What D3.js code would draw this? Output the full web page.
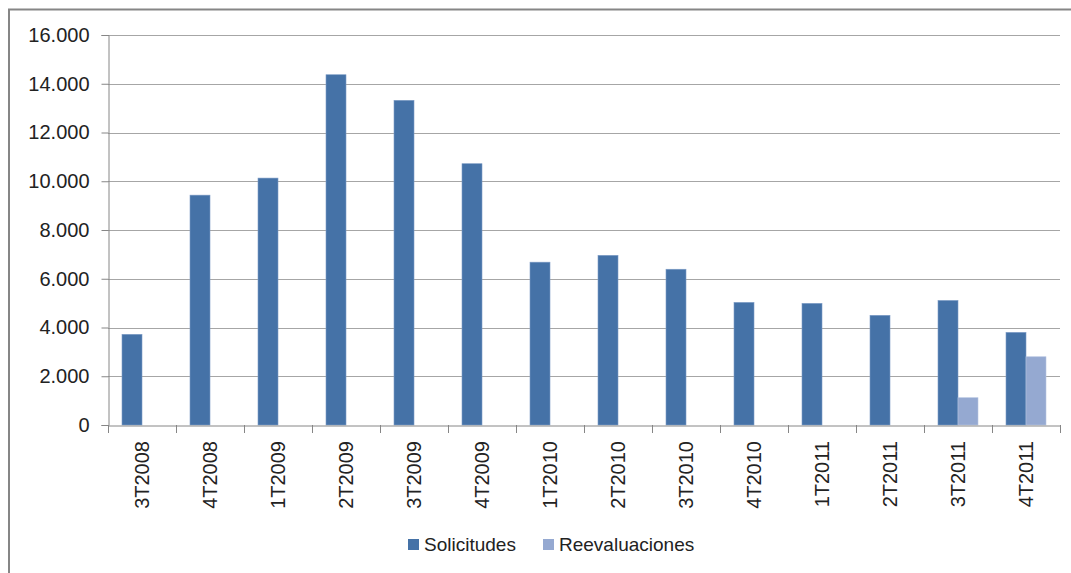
<!DOCTYPE html>
<html>
<head>
<meta charset="utf-8">
<script src="https://cdn.jsdelivr.net/npm/d3@7"></script>
<style>
  html, body { margin: 0; padding: 0; background: #fff; }
  svg { display: block; font-family: "Liberation Sans", Arial, sans-serif; }
</style>
</head>
<body>
<svg id="chart" width="1071" height="573"></svg>
<script>
const categories = ["3T2008","4T2008","1T2009","2T2009","3T2009","4T2009","1T2010","2T2010","3T2010","4T2010","1T2011","2T2011","3T2011","4T2011"];
const solicitudes = [3720, 9430, 10130, 14370, 13320, 10720, 6680, 6960, 6390, 5030, 4990, 4500, 5110, 3800];
const reevaluaciones = [0, 0, 0, 0, 0, 0, 0, 0, 0, 0, 0, 0, 1120, 2800];
const seriesNames = ["Solicitudes", "Reevaluaciones"];
const seriesColors = ["#4572A7", "#95A9D1"];
const yTicks = [0, 2000, 4000, 6000, 8000, 10000, 12000, 14000, 16000];

(function () {
const svg = d3.select("#chart");
const W = 1071, H = 573;
const mLeft = 108, mRight = 1060, mTop = 35, mBottom = 425;

// outer frame (cropped at right/bottom)
svg.append("path")
  .attr("d", `M9,${H + 5} L9,9.5 L${W + 5},9.5`)
  .attr("fill", "none").attr("stroke", "#868686").attr("stroke-width", 2);

const x = d3.scaleBand().domain(categories).range([mLeft, mRight]).paddingInner(0).paddingOuter(0);
const y = d3.scaleLinear().domain([0, 16000]).range([mBottom, mTop]);

// gridlines
svg.append("g").selectAll("line").data(yTicks.filter(d => d > 0)).join("line")
  .attr("x1", mLeft).attr("x2", mRight)
  .attr("y1", d => Math.round(y(d)) + 0.5).attr("y2", d => Math.round(y(d)) + 0.5)
  .attr("stroke", "#a6a6a6").attr("stroke-width", 1.2);

// y axis
const yAxis = d3.axisLeft(y).tickValues(yTicks).tickSize(7).tickPadding(12)
  .tickFormat(d => d3.format(",")(d).replace(/,/g, "."));
const gy = svg.append("g").attr("transform", `translate(${mLeft + 0.5},0)`).call(yAxis);
gy.select(".domain").attr("stroke", "#868686");
gy.selectAll(".tick line").attr("stroke", "#868686");
gy.selectAll(".tick text").attr("font-size", 20).attr("fill", "#222")
  .attr("font-family", "'Liberation Sans', Arial, sans-serif");

// bars
const data = categories.map((c, i) => ({ c, vals: [solicitudes[i], reevaluaciones[i]] }));
const barW = 20;
const groupOffset = (x.bandwidth() - 2 * barW) / 2;
const g = svg.append("g");
data.forEach(d => {
  d.vals.forEach((v, k) => {
    if (v <= 0) return;
    g.append("rect")
      .attr("x", x(d.c) + groupOffset + k * barW)
      .attr("y", y(v))
      .attr("width", barW)
      .attr("height", y(0) - y(v))
      .attr("fill", seriesColors[k])
      .attr("stroke", k === 0 ? "#7d9cc6" : "#b7c5e2")
      .attr("stroke-width", 0.6);
  });
});

// x axis
const xAxis = d3.axisBottom(x).tickSize(0).tickFormat("");
const gx = svg.append("g").attr("transform", `translate(0,${mBottom + 0.5})`).call(xAxis);
gx.select(".domain").attr("stroke", "#868686");
svg.append("g").selectAll("line").data(d3.range(categories.length + 1)).join("line")
  .attr("x1", i => Math.round(mLeft + i * x.step()) + 0.5)
  .attr("x2", i => Math.round(mLeft + i * x.step()) + 0.5)
  .attr("y1", mBottom).attr("y2", mBottom + 8)
  .attr("stroke", "#868686");

// category labels rotated
svg.append("g").selectAll("text").data(categories).join("text")
  .attr("transform", d => `translate(${x(d) + x.bandwidth() / 2},441) rotate(-90)`)
  .attr("text-anchor", "end").attr("dy", "0.36em")
  .attr("font-size", 20).attr("fill", "#222")
  .text(d => d);

// legend
const legend = [
  { name: seriesNames[0], color: seriesColors[0], sx: 408, tx: 424 },
  { name: seriesNames[1], color: seriesColors[1], sx: 543, tx: 559 }
];
const lg = svg.append("g");
legend.forEach(l => {
  lg.append("rect").attr("x", l.sx).attr("y", 539).attr("width", 11).attr("height", 11).attr("fill", l.color);
  lg.append("text").attr("x", l.tx).attr("y", 551).attr("font-size", 19).attr("fill", "#222").text(l.name);
});
})();
</script>
</body>
</html>
